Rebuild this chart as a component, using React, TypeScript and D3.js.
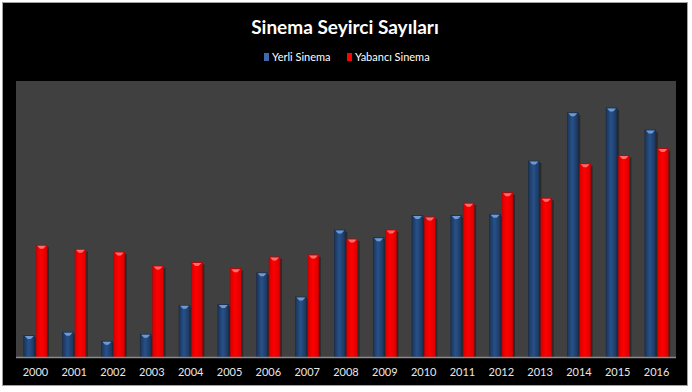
import React, { useEffect, useRef } from 'react';
import * as d3 from 'd3';

const years = ['2000', '2001', '2002', '2003', '2004', '2005', '2006', '2007', '2008',
  '2009', '2010', '2011', '2012', '2013', '2014', '2015', '2016'];
// izleyici sayısı (milyon, grafikten okunan yaklaşık değerler)
const yerli = [3.1, 3.6, 2.3, 3.3, 7.5, 7.6, 12.2, 8.7, 18.4, 17.3, 20.5, 20.5, 20.7, 28.4, 35.4, 36.1, 32.9];
const yabanci = [16.2, 15.6, 15.2, 13.2, 13.7, 12.8, 14.5, 14.8, 17.1, 18.4, 20.3, 22.3, 23.8, 23.0, 28.0, 29.2, 30.2];
const seriesNames = ['Yerli Sinema', 'Yabancı Sinema'];
const yDomain: [number, number] = [0, 40];

const W = 692;
const H = 392;

const App: React.FC = () => {
  const svgRef = useRef<SVGSVGElement>(null);

  useEffect(() => {
    if (!svgRef.current) return;
    const svg = d3.select(svgRef.current);
    svg.selectAll('*').remove();

    const plot = { left: 16, right: 676, top: 81, bottom: 357 };
    const font = 'Lato, "Open Sans", sans-serif';

    const defs = svg.append('defs');
    const grad = (id: string, edge: string, mid: string) => {
      const lg = defs.append('linearGradient').attr('id', id).attr('x1', 0).attr('x2', 1).attr('y1', 0).attr('y2', 0);
      lg.append('stop').attr('offset', '0%').attr('stop-color', edge);
      lg.append('stop').attr('offset', '45%').attr('stop-color', mid);
      lg.append('stop').attr('offset', '100%').attr('stop-color', edge);
    };
    grad('gBlue', '#1b3559', '#27518a');
    grad('gRed', '#d80000', '#ff0000');

    // arka plan + çerçeve
    svg.append('rect').attr('width', W).attr('height', H).attr('fill', '#ffffff');
    svg.append('rect').attr('x', 2.5).attr('y', 2.5).attr('width', 685).attr('height', 383)
      .attr('fill', '#000').attr('stroke', '#a0a0a0').attr('stroke-width', 1);

    svg.append('rect')
      .attr('x', plot.left).attr('y', plot.top)
      .attr('width', plot.right - plot.left).attr('height', plot.bottom - plot.top)
      .attr('fill', '#404040');

    const x0 = d3.scaleBand().domain(years).range([plot.left, plot.right]).paddingInner(0.4).paddingOuter(0.2);
    const x1 = d3.scaleBand().domain(seriesNames).range([0, x0.bandwidth()]).paddingInner(0.12);
    const y = d3.scaleLinear().domain(yDomain).range([plot.bottom, plot.top]);

    const series = [
      { name: seriesNames[0], values: yerli, fill: 'url(#gBlue)', cap: '#6d9ad3', edge: '#16294a' },
      { name: seriesNames[1], values: yabanci, fill: 'url(#gRed)', cap: '#ff6a6a', edge: '#b80000' },
    ];

    const bw = x1.bandwidth();
    series.forEach((s) => {
      const g = svg.append('g');
      const data = years.map((yr, i) => ({ yr, v: s.values[i] }));
      // gölge
      g.selectAll('rect.shadow').data(data).join('rect')
        .attr('class', 'shadow')
        .attr('x', (d) => x0(d.yr)! + x1(s.name)! + 2)
        .attr('y', (d) => y(d.v) + 2)
        .attr('width', bw)
        .attr('height', (d) => plot.bottom - y(d.v) - 2)
        .attr('fill', '#2a2a2a');
      g.selectAll('rect.bar').data(data).join('rect')
        .attr('class', 'bar')
        .attr('x', (d) => x0(d.yr)! + x1(s.name)!)
        .attr('y', (d) => y(d.v))
        .attr('width', bw)
        .attr('height', (d) => plot.bottom - y(d.v))
        .attr('fill', s.fill)
        .attr('stroke', s.edge)
        .attr('stroke-width', 0.6);
      g.selectAll('path.cap').data(data).join('path')
        .attr('class', 'cap')
        .attr('d', (d) => {
          const bx = x0(d.yr)! + x1(s.name)!;
          const by = y(d.v);
          return `M${bx + 1},${by + 0.5} L${bx + bw - 1},${by + 0.5} L${bx + bw * 0.65},${by + 3.5} L${bx + bw * 0.35},${by + 3.5} Z`;
        })
        .attr('fill', s.cap);
    });

    svg.append('line')
      .attr('x1', plot.left).attr('x2', plot.right)
      .attr('y1', plot.bottom + 0.5).attr('y2', plot.bottom + 0.5)
      .attr('stroke', '#8a8a8a').attr('stroke-width', 1.5);

    // x ekseni etiketleri
    svg.append('g').selectAll('text').data(years).join('text')
      .attr('x', (d) => x0(d)! + x0.bandwidth() / 2)
      .attr('y', 376)
      .attr('text-anchor', 'middle')
      .attr('fill', '#e8e8e8')
      .attr('font-family', font)
      .attr('font-size', 11)
      .text((d) => d);

    // başlık
    svg.append('text')
      .attr('x', 345).attr('y', 34)
      .attr('text-anchor', 'middle')
      .attr('fill', '#fff')
      .attr('font-family', font)
      .attr('font-weight', 'bold')
      .attr('font-size', 19)
      .text('Sinema Seyirci Sayıları');

    // lejant
    const legend = [
      { name: seriesNames[0], color: '#3d6aa8', x: 264 },
      { name: seriesNames[1], color: '#ff0000', x: 347 },
    ];
    const lg = svg.append('g');
    legend.forEach((l) => {
      lg.append('rect').attr('x', l.x).attr('y', 53).attr('width', 5).attr('height', 8).attr('fill', l.color);
      lg.append('text').attr('x', l.x + 8).attr('y', 61)
        .attr('fill', '#fff').attr('font-family', font).attr('font-size', 11)
        .text(l.name);
    });
  }, []);

  return (
    <svg
      ref={svgRef}
      width={W}
      height={H}
      style={{ position: 'absolute', left: 0, top: 0, display: 'block' }}
    />
  );
};

export default App;
